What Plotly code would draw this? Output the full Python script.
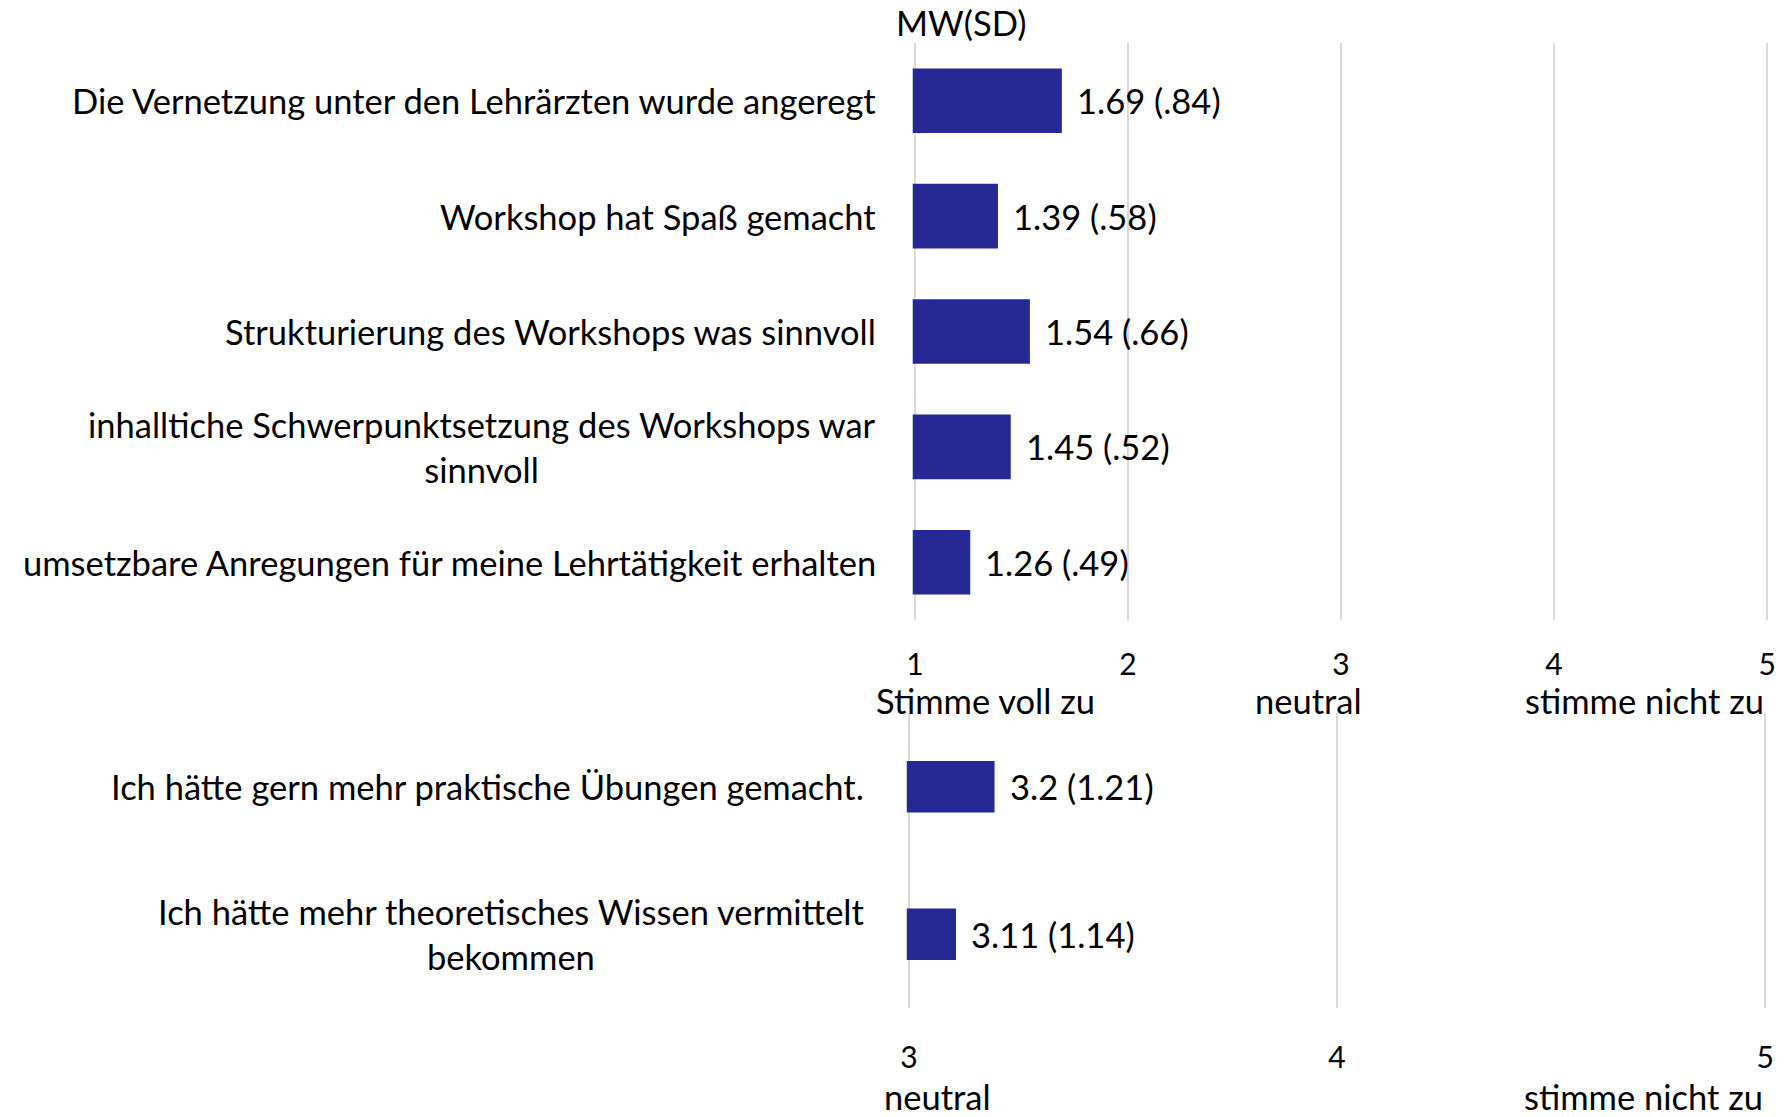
import plotly.graph_objects as go

# ---- data ----
top_items = [
    "Die Vernetzung unter den Lehrärzten wurde angeregt",
    "Workshop hat Spaß gemacht",
    "Strukturierung des Workshops was sinnvoll",
    "inhalltiche Schwerpunktsetzung des Workshops war<br>sinnvoll",
    "umsetzbare Anregungen für meine Lehrtätigkeit erhalten",
]
top_mean = [1.69, 1.39, 1.54, 1.45, 1.26]
top_sd = [".84", ".58", ".66", ".52", ".49"]

bottom_items = [
    "Ich hätte gern mehr praktische Übungen gemacht.",
    "Ich hätte mehr theoretisches Wissen vermittelt<br>bekommen",
]
bottom_mean = [3.2, 3.11]
bottom_sd = ["1.21", "1.14"]

top_ticks = [1, 2, 3, 4, 5]
bottom_ticks = [3, 4, 5]

W, H = 1789, 1117
FONT = "Lato"
BAR = "#262893"
GRID = "#d9d9d9"
TXT = 34.5
TICK = 30


def px(x):
    return x / W


def py(y):
    return 1 - y / H


fig = go.Figure()

fig.add_trace(go.Bar(
    x=top_mean, y=top_items, orientation="h", width=0.56,
    marker=dict(color=BAR, line=dict(width=0)),
    xaxis="x", yaxis="y", hoverinfo="skip", showlegend=False,
))
fig.add_trace(go.Bar(
    x=bottom_mean, y=bottom_items, orientation="h", width=0.35,
    marker=dict(color=BAR, line=dict(width=0)),
    xaxis="x2", yaxis="y2", hoverinfo="skip", showlegend=False,
))

annotations = []
for item, m, sd in zip(top_items, top_mean, top_sd):
    annotations.append(dict(x=m, y=item, xref="x", yref="y", text=f"{m} ({sd})",
                            xanchor="left", yanchor="middle", xshift=13, showarrow=False,
                            font=dict(family=FONT, size=TXT, color="black")))
    annotations.append(dict(x=px(878), y=item, xref="paper", yref="y", text=item,
                            xanchor="right", yanchor="middle", align="center", showarrow=False,
                            font=dict(family=FONT, size=TXT, color="black")))
for item, m, sd in zip(bottom_items, bottom_mean, bottom_sd):
    annotations.append(dict(x=m, y=item, xref="x2", yref="y2", text=f"{m} ({sd})",
                            xanchor="left", yanchor="middle", xshift=13, showarrow=False,
                            font=dict(family=FONT, size=TXT, color="black")))
    annotations.append(dict(x=px(866), y=item, xref="paper", yref="y2", text=item,
                            xanchor="right", yanchor="middle", align="center", showarrow=False,
                            font=dict(family=FONT, size=TXT, color="black")))

# axis captions (text, x, y, xanchor)
caps = [
    ("MW(SD)", 962, 23, "center"),
    ("Stimme voll zu", 986, 700, "center"),
    ("neutral", 1312, 700, "center"),
    ("stimme nicht zu", 1773, 700, "right"),
    ("neutral", 938, 1096, "center"),
    ("stimme nicht zu", 1772, 1096, "right"),
]
for t, x, y, anc in caps:
    annotations.append(dict(x=px(x), y=py(y), xref="paper", yref="paper", text=t,
                            xanchor=anc, yanchor="middle", showarrow=False,
                            font=dict(family=FONT, size=TXT, color="black")))

e1 = 0.01
e2 = 0.005
fig.update_layout(
    width=W, height=H,
    margin=dict(l=0, r=0, t=0, b=0),
    paper_bgcolor="white", plot_bgcolor="white",
    font=dict(family=FONT, color="black"),
    xaxis=dict(domain=[px(915 - 213 * e1), px(1774 + 213 * e1)], range=[1 - e1, 5 + e1],
               tickvals=top_ticks,
               showgrid=True, gridcolor=GRID, gridwidth=1.5, zeroline=False,
               showline=False, ticks="", ticklabelstandoff=24,
               tickfont=dict(family=FONT, size=TICK, color="black"), anchor="y", fixedrange=True),
    yaxis=dict(domain=[py(620), py(43)], autorange="reversed", showticklabels=False,
               showgrid=False, zeroline=False, anchor="x", fixedrange=True),
    xaxis2=dict(domain=[px(909 - 428.5 * e2), px(1772 + 428.5 * e2)], range=[3 - e2, 5 + e2],
                tickvals=bottom_ticks,
                showgrid=True, gridcolor=GRID, gridwidth=1.5, zeroline=False,
                showline=False, ticks="", ticklabelstandoff=29,
                tickfont=dict(family=FONT, size=TICK, color="black"), anchor="y2", fixedrange=True),
    yaxis2=dict(domain=[py(1008), py(713)], autorange="reversed", showticklabels=False,
                showgrid=False, zeroline=False, anchor="x2", fixedrange=True),
    annotations=annotations,
)

fig.write_html(
    "out.html",
    config={"responsive": False, "displayModeBar": False},
    post_script=(
        "document.documentElement.style.margin='0';"
        "document.documentElement.style.overflow='hidden';"
        "document.body.style.margin='0';"
        "document.body.style.overflow='hidden';"
    ),
)
